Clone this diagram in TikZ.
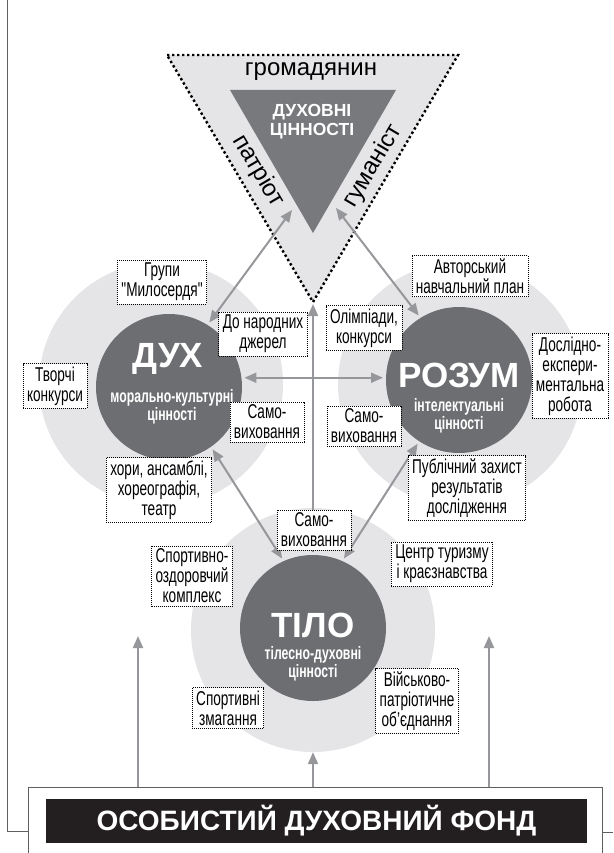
\documentclass[tikz,border=0pt]{standalone}
\usepackage{fontspec}
\setmainfont{Liberation Sans}
\newfontfamily\condfont[FakeStretch=0.68]{Liberation Sans}
\usetikzlibrary{arrows.meta, positioning}
\definecolor{lightgr}{RGB}{229,229,231}
\definecolor{darkgr}{RGB}{109,110,113}
\definecolor{trigr}{RGB}{120,121,124}
\definecolor{arrgr}{RGB}{150,151,155}
\definecolor{barblack}{RGB}{35,31,32}
\definecolor{framegr}{RGB}{95,95,95}

\begin{document}
\begin{tikzpicture}[
    x=1pt, y=-1pt,
    halo/.style={circle, fill=lightgr, minimum size=244pt, inner sep=0pt},
    core/.style={circle, fill=darkgr, minimum size=146pt, inner sep=0pt, outer sep=3pt},
    bigword/.style={text=white, font=\bfseries\fontsize{35}{36}\selectfont, inner sep=0pt},
    subword/.style={text=white, align=center, font=\condfont\bfseries\fontsize{18}{18.5}\selectfont, inner sep=0pt},
    trtext/.style={font=\fontsize{24}{26}\selectfont, inner sep=0pt},
    infobox/.style={rectangle, draw=black, fill=white, line width=0.7pt, dash pattern=on 1pt off 1pt, align=center, inner xsep=4pt, inner ysep=3pt, font=\condfont\fontsize{20}{20}\selectfont},
    arr/.style={{Triangle[length=12pt,width=10pt]}-{Triangle[length=12pt,width=10pt]}, line width=2pt, draw=arrgr},
    uparr/.style={-{Triangle[length=12pt,width=10pt]}, line width=2pt, draw=arrgr},
    frame/.style={draw=framegr, line width=0.8pt}
]
\useasboundingbox (0,0) rectangle (613,853);
\clip (0,0) rectangle (613,853);

% light rings
\node[halo] (dukhhalo) at (161,384) {};
\node[halo] (rozumhalo) at (460,384) {};
\node[halo] (tilohalo) at (313,630) {};

% triangle of values
\filldraw[fill=lightgr, draw=black, line width=2.4pt, dash pattern=on 2.4pt off 2.6pt] (167,55) -- (458,55) -- (313,302) -- cycle;
\fill[trigr] (230,90) -- (396,90) -- (313,233) -- cycle;
\node[trtext] (citizen) at (311,72) {громадянин};
\node[trtext, rotate=-59.4] (patriot) at (258,171) {патріот};
\node[trtext, rotate=59.4] (humanist) at (373,166) {гуманіст};
\node[text=white, align=center, inner sep=0pt, font=\bfseries\fontsize{17.5}{19}\selectfont] (values) at (312,122) {ДУХОВНІ\\ЦІННОСТІ};
\coordinate (trL) at (292,210);
\coordinate (trR) at (336,208);
\coordinate (trB) at (313,304);

% cores
\node[core] (dukh) at (169,387) {};
\node[core] (rozum) at (459,380) {};
\node[core] (tilo) at (313,628) {};

\node[bigword] (dukhT) at (168,359) {ДУХ};
\node[subword] (dukhS) at (172,407) {морально-культурні\\цінності};
\node[bigword] (rozumT) at (459,375) {РОЗУМ};
\node[subword] (rozumS) at (459,416) {інтелектуальні\\цінності};
\node[bigword] (tiloT) at (313,625) {ТІЛО};
\node[subword] (tiloS) at (313,664) {тілесно-духовні\\цінності};

% connections
\draw[arr] (dukh.58) -- (trL);
\draw[arr] (rozum.122) -- (trR);
\draw[arr] (dukh.7) -- (dukh.7 -| rozum.west);
\draw[uparr] (tilo.north) -- (trB);
\draw[arr] (dukh.-55) -- (tilo.114);
\draw[arr] (rozum.-123) -- (tilo.66);

% activities
\node[infobox] (grupy) at (162,282) {Групи\\"Милосердя"};
\node[infobox] (narod) at (263,334) {До народних\\джерел};
\node[infobox] (tvorchi) at (55,386) {Творчі\\конкурси};
\node[infobox] (samoL) at (267,422) {Само-\\виховання};
\node[infobox] (khory) at (159,490) {хори, ансамблі,\\хореографія,\\театр};
\node[infobox] (samoB) at (314,530) {Само-\\виховання};
\node[infobox] (avtor) at (470,276) {Авторський\\навчальний план};
\node[infobox] (olimp) at (364,328) {Олімпіади,\\конкурси};
\node[infobox] (doslid) at (570,376) {Дослідно-\\експери-\\ментальна\\робота};
\node[infobox] (samoR) at (364,426) {Само-\\виховання};
\node[infobox] (publ) at (467,488) {Публічний захист\\результатів\\дослідження};
\node[infobox] (sport) at (192,576) {Спортивно-\\оздоровчий\\комплекс};
\node[infobox] (centr) at (442,564) {Центр туризму\\і краєзнавства};
\node[infobox] (zmag) at (228,708) {Спортивні\\змагання};
\node[infobox] (viysk) at (417,701) {Військово-\\патріотичне\\об’єднання};

% personal fund
\node[frame, fill=white, minimum width=574pt, minimum height=90pt, inner sep=0pt] (fundbox) at (315,832) {};
\node[fill=barblack, text=white, minimum width=541pt, minimum height=44pt, inner sep=0pt, font=\bfseries\fontsize{28}{30}\selectfont] (fundbar) at (316.5,821) {ОСОБИСТИЙ ДУХОВНИЙ ФОНД};
\coordinate (frameL) at (7,831);
\coordinate (frameR) at (613,832);
\draw[frame] (7,0) -- (frameL) -- (fundbox.west |- frameL);
\draw[frame] (fundbox.east |- frameR) -- (frameR);

\coordinate (upL) at (138,636);
\coordinate (upR) at (489,636);
\draw[uparr] (fundbox.north -| upL) -- (upL);
\draw[uparr] (fundbox.north -| upR) -- (upR);
\draw[uparr] (fundbox.north -| tilohalo) -- (tilohalo.south);

\end{tikzpicture}
\end{document}
